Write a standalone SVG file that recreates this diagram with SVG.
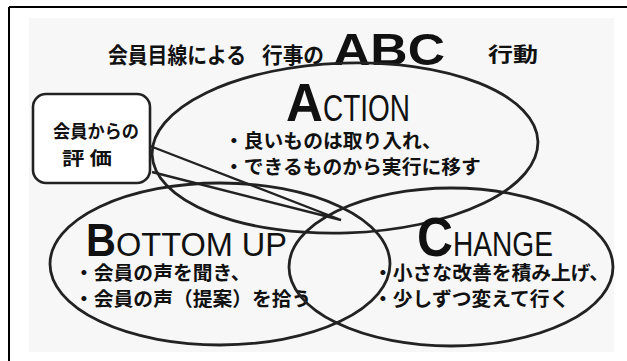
<svg xmlns="http://www.w3.org/2000/svg" width="627" height="361" viewBox="0 0 627 361">
<style>
.jp{font-family:"Noto Sans CJK JP","Noto Sans CJK SC",sans-serif;font-weight:700;fill:#111}
.en{font-family:"Liberation Sans","Arial",sans-serif;fill:#111}
.big{font-weight:700}
.ell{fill:none;stroke:#222;stroke-width:2.8}
.frame{stroke:#000;stroke-width:2;fill:none}
.ptr{fill:none;stroke:#222;stroke-width:2.4;stroke-linejoin:miter}
.bl{font-size:19.8px}
</style>
<rect x="0" y="0" width="627" height="361" fill="#fff"/>
<rect x="29" y="18" width="585" height="334" fill="#f7f7f7"/>
<g id="frame">
<line class="frame" x1="9" y1="7" x2="627" y2="7"/>
<line class="frame" x1="9" y1="7" x2="9" y2="361"/>
</g>
<g id="title">
<text class="jp" x="108" y="63" font-size="22" textLength="138" lengthAdjust="spacingAndGlyphs">会員目線による</text>
<text class="jp" x="262" y="63" font-size="22" textLength="62" lengthAdjust="spacingAndGlyphs">行事の</text>
<text class="en" x="333" y="65" font-size="45" font-weight="700" textLength="112" lengthAdjust="spacingAndGlyphs">ABC</text>
<text class="jp" x="488" y="62" font-size="20" textLength="50" lengthAdjust="spacingAndGlyphs">行動</text>
</g>
<g id="connectors">
<polyline class="ptr" points="150,146 341,220 152,172"/>
</g>
<g id="action">
<ellipse class="ell" cx="345" cy="148" rx="193" ry="85" transform="rotate(-2 345 148)"/>
<text class="en big" x="286" y="121" font-size="54" textLength="37" lengthAdjust="spacingAndGlyphs">A</text>
<text class="en" x="323" y="121" font-size="37" textLength="87" lengthAdjust="spacingAndGlyphs">CTION</text>
<text class="jp bl" x="224" y="148">・良いものは取り入れ、</text>
<text class="jp bl" x="224" y="174">・できるものから実行に移す</text>
</g>
<g id="bottomup">
<ellipse class="ell" cx="220" cy="264" rx="170" ry="81"/>
<text class="en big" x="86" y="256" font-size="46" textLength="30" lengthAdjust="spacingAndGlyphs">B</text>
<text class="en" x="116" y="256" font-size="33" textLength="171" lengthAdjust="spacingAndGlyphs">OTTOM UP</text>
<text class="jp bl" x="74" y="280">・会員の声を聞き、</text>
<text class="jp bl" x="74" y="306">・会員の声（提案）を拾う</text>
</g>
<g id="change">
<ellipse class="ell" cx="451" cy="267" rx="162" ry="79"/>
<text class="en big" x="417" y="256" font-size="56" textLength="36" lengthAdjust="spacingAndGlyphs">C</text>
<text class="en" x="453" y="256" font-size="35" textLength="100" lengthAdjust="spacingAndGlyphs">HANGE</text>
<text class="jp bl" x="373" y="280">・小さな改善を積み上げ、</text>
<text class="jp bl" x="373" y="306">・少しずつ変えて行く</text>
</g>
<g id="callout">
<rect x="33" y="94" width="117" height="89" rx="13" fill="#fff" stroke="#222" stroke-width="2.6"/>
<text class="jp" x="53" y="138" font-size="18" textLength="86" lengthAdjust="spacingAndGlyphs">会員からの</text>
<text class="jp" x="62" y="165" font-size="18" textLength="50" lengthAdjust="spacingAndGlyphs">評 価</text>
</g>
</svg>
